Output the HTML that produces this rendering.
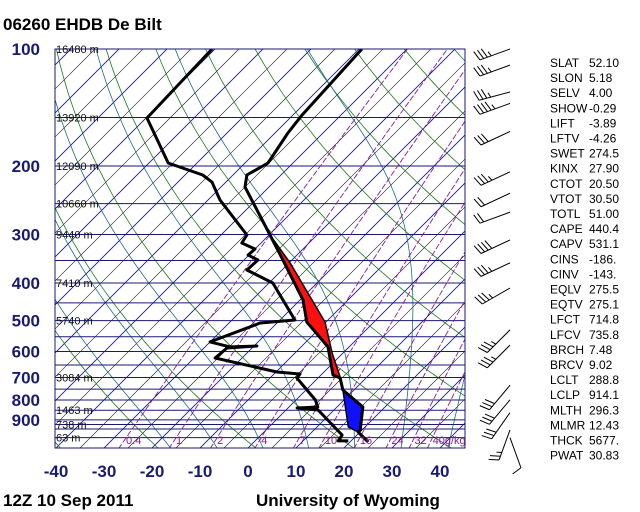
<!DOCTYPE html>
<html><head><meta charset="utf-8"><style>
html,body{margin:0;padding:0;background:#fff;width:640px;height:512px;overflow:hidden}
svg{display:block;font-family:"Liberation Sans",sans-serif}
</style></head><body>
<svg id="c" width="640" height="512" viewBox="0 0 640 512">
<defs><clipPath id="clip"><rect x="55" y="49" width="410" height="399"/></clipPath></defs>
<text x="3" y="30" font-size="17" font-weight="bold">06260 EHDB De Bilt</text>
<text x="3" y="506" font-size="17" font-weight="bold">12Z 10 Sep 2011</text>
<text x="256" y="506" font-size="17" font-weight="bold">University of Wyoming</text>
<g id="grid" clip-path="url(#clip)"></g>
<g id="series" clip-path="url(#clip)"></g>
<rect x="55" y="49" width="410" height="399" fill="none" stroke="#1a1a70" stroke-width="1"/>
<g id="labels"></g>
<g id="barbs"></g>
<g id="stats"></g>
</svg>
<script>
// ---- data ----
const tempP = [100,148,164.5,196.5,211,226.5,301,349,442,504,584,690,702,754,834,955,967,1026];
const tempT = [-59.4,-58.1,-57.3,-55.2,-57.1,-55,-39.8,-31.9,-19.4,-14,-4.4,2.5,4.6,7.7,15.4,19.6,19.6,23.8];
const dewP = [100,150.5,196.5,211,220,244.6,301,315.6,327,338.8,349,370.4,400,498,507,567,584,581,588,623.7,677.6,685.6,702,799.6,834,839,849,984.5,1019,1019];
const dewT = [-90.6,-89.8,-76,-66.3,-62.9,-57.5,-44.6,-44,-40,-40.2,-37.1,-37.3,-29.2,-16.9,-23.5,-30,-24.8,-19.4,-25.2,-25.6,-9.8,-4.6,-4.4,4,6,1.9,6.7,16.9,17.3,19.4];
const parcelP = [301,355,504,605,698,754,938,967];
const parcelT = [-39.8,-29.8,-10.2,-2.3,4.4,7.7,16.5,19.6];
const pressureTicks = [100,200,300,400,500,600,700,800,900];
const tempTicks = [-40,-30,-20,-10,0,10,20,30,40];
const heightP = [100,150,200,250,300,400,500,700,850,925,1000];
const heightLabels = ["16480 m","13920 m","12090 m","10660 m","9440 m","7410 m","5740 m","3084 m","1463 m","738 m","63 m"];
const mixValues = [0.4,1,2,4,7,10,16,24,32,40];
const mixLabels = ["0.4","1","2","4","7","10","16","24","32","40g/kg"];
const windP = [100,110,129,138,163,207,235,263,310,355,412,528,578,733,799,862,955,1000];
const windDir = [250,250,255,250,245,245,245,250,245,245,240,225,225,220,220,215,200,160];
const windSpd = [35,35,35,45,30,35,20,20,40,35,35,35,35,30,30,30,25,10];
const statNames = ["SLAT","SLON","SELV","SHOW","LIFT","LFTV","SWET","KINX","CTOT","VTOT","TOTL","CAPE","CAPV","CINS","CINV","EQLV","EQTV","LFCT","LFCV","BRCH","BRCV","LCLT","LCLP","MLTH","MLMR","THCK","PWAT"];
const statVals = ["52.10","5.18","4.00","-0.29","-3.89","-4.26","274.5","27.90","20.50","30.50","51.00","440.4","531.1","-186.","-143.","275.5","275.1","714.8","735.8","7.48","9.02","288.8","914.1","296.3","12.43","5677.","30.83"];
const isobars = [100,150,200,250,300,350,400,450,500,550,600,650,700,750,800,850,900,925,950,1000];

// ---- axes ----
const NS="http://www.w3.org/2000/svg";
function Y(p){return 49+168.8*Math.log(p/100);}
function X(T,p){return 248+4.8*T+(448-Y(p));}
function mk(tag,attrs,parent){const e=document.createElementNS(NS,tag);for(const k in attrs)e.setAttribute(k,attrs[k]);parent.appendChild(e);return e;}
const grid=document.getElementById('grid'),series=document.getElementById('series'),labels=document.getElementById('labels');
function poly(pts){return pts.map(q=>q[0].toFixed(1)+','+q[1].toFixed(1)).join(' ');}

// isotherms
for(let T=-125;T<=50;T+=5){const navy=(T%10===0);const l=mk('line',{x1:X(T,1070),y1:Y(1070),x2:X(T,90),y2:Y(90),stroke:navy?'#1a1a90':'#111','stroke-width':navy?0.9:0.6},grid);
}
// dry adiabats
for(let th=230;th<=490;th+=20){const pts=[];for(let p=1070;p>=95;p-=10){pts.push([X(th*Math.pow(p/1000,0.286)-273.15,p),Y(p)]);}
const l=mk('polyline',{points:poly(pts),fill:'none',stroke:'#1d7a1d','stroke-width':0.8},grid);
}
// moist adiabats
function es(tc){return 6.112*Math.exp(17.67*tc/(tc+243.5));}
function dTdp(T,p){const tc=T-273.15,e=es(tc),rs=0.622*e/(p-e);return (287*T+2.5e6*rs)/(p*(1004+2.5e6*2.5e6*rs*0.622/(287*T*T)));}
for(let t0=-20;t0<=40;t0+=10){let T=t0+273.15,pts=[];let Td=T;for(let p=1000;p<=1070;p+=5){pts.unshift([X(Td-273.15,p),Y(p)]);Td+=dTdp(Td,p)*5;}
for(let p=1000;p>=100;p-=5){pts.push([X(T-273.15,p),Y(p)]);T-=dTdp(T,p)*5;}
const l=mk('polyline',{points:poly(pts),fill:'none',stroke:'#1f6a8a','stroke-width':0.8},grid);
}
// isobars
isobars.forEach(p=>{const l=mk('line',{x1:55,x2:465,y1:Y(p),y2:Y(p),stroke:'#1a1a70','stroke-width':1},grid);
});
// mixing ratio lines
function tdW(w,p){const e=w*p/(622+w),a=Math.log(e/6.112);return 243.5*a/(17.67-a);}
mixValues.forEach((w,i)=>{const pts=[];for(let p=1070;p>=95;p-=10)pts.push([X(tdW(w,p),p),Y(p)]);
const l=mk('polyline',{points:poly(pts),fill:'none',stroke:'#8a1a9a','stroke-width':0.9,'stroke-dasharray':'6,2'},grid);

const t=mk('text',{x:X(tdW(w,1010),1010)+1,y:444,'font-size':11,fill:'#8a1a9a'},labels);t.textContent=mixLabels[i];
});

// fills
function pairs(P,T,f){const o=[];P.forEach((p,i)=>{if(f(p))o.push([X(T[i],p),Y(p)]);});return o;}
const red=pairs(parcelP,parcelT,p=>p<=754).concat(pairs(tempP,tempT,p=>p>=301&&p<=754).reverse());
const rf=mk('polygon',{points:poly(red),fill:'#ff1010',stroke:'#000','stroke-width':0.5},series);

const blue=pairs(parcelP,parcelT,p=>p>=754).concat(pairs(tempP,tempT,p=>p>=754&&p<=967).reverse());
const bf=mk('polygon',{points:poly(blue),fill:'#1010ff',stroke:'#000','stroke-width':0.5},series);

// lines
const pl=mk('polyline',{points:poly(pairs(parcelP,parcelT,()=>true)),fill:'none',stroke:'#000','stroke-width':1.5},series);

const tl=mk('polyline',{points:poly(pairs(tempP,tempT,()=>true)),fill:'none',stroke:'#000','stroke-width':3,'stroke-linejoin':'round'},series);

const dl=mk('polyline',{points:poly(pairs(dewP,dewT,()=>true)),fill:'none',stroke:'#000','stroke-width':3,'stroke-linejoin':'round'},series);


// axis labels
pressureTicks.forEach(p=>{const t=mk('text',{x:40,y:Y(p)+6,'font-size':17,'font-weight':'bold','text-anchor':'end',fill:'#1a1a70'},labels);t.textContent=p;
});
tempTicks.forEach(T=>{const t=mk('text',{x:248+4.8*T,y:477,'font-size':17,'font-weight':'bold','text-anchor':'middle',fill:'#1a1a70'},labels);t.textContent=T;
});
heightP.forEach((p,i)=>{const t=mk('text',{x:56,y:Math.min(Y(p)+4,446),'font-size':11,fill:'#111'},labels);t.textContent=heightLabels[i];
});

// barbs
const barbs=document.getElementById('barbs');
windP.forEach((p,i)=>{const sx=510,sy=Math.min(Y(p),462),a=windDir[i]*Math.PI/180,L=32;
const ux=Math.sin(a),uy=-Math.cos(a),ex=sx+ux*L,ey=sy+uy*L;
const g=mk('g',{},barbs);
mk('line',{x1:sx,y1:sy,x2:ex,y2:ey,stroke:'#000','stroke-width':1},g);
let s=windSpd[i],k=0;const px=-uy,py=ux;
while(s>=10){const bx=ex-ux*k*4,by=ey-uy*k*4;mk('line',{x1:bx,y1:by,x2:bx+px*10+ux*3,y2:by+py*10+uy*3,stroke:'#000','stroke-width':1},g);s-=10;k++;}
if(s>=5){const bx=ex-ux*k*4,by=ey-uy*k*4;mk('line',{x1:bx,y1:by,x2:bx+px*5+ux*1.5,y2:by+py*5+uy*1.5,stroke:'#000','stroke-width':1},g);}
});

// stats
const stats=document.getElementById('stats');
statNames.forEach((n,i)=>{const y=67+i*15.1;
const a=mk('text',{x:550,y:y,'font-size':12,fill:'#000'},stats);a.textContent=n;
const b=mk('text',{x:589,y:y,'font-size':12,fill:'#000'},stats);b.textContent=statVals[i];});
</script>
</body></html>
